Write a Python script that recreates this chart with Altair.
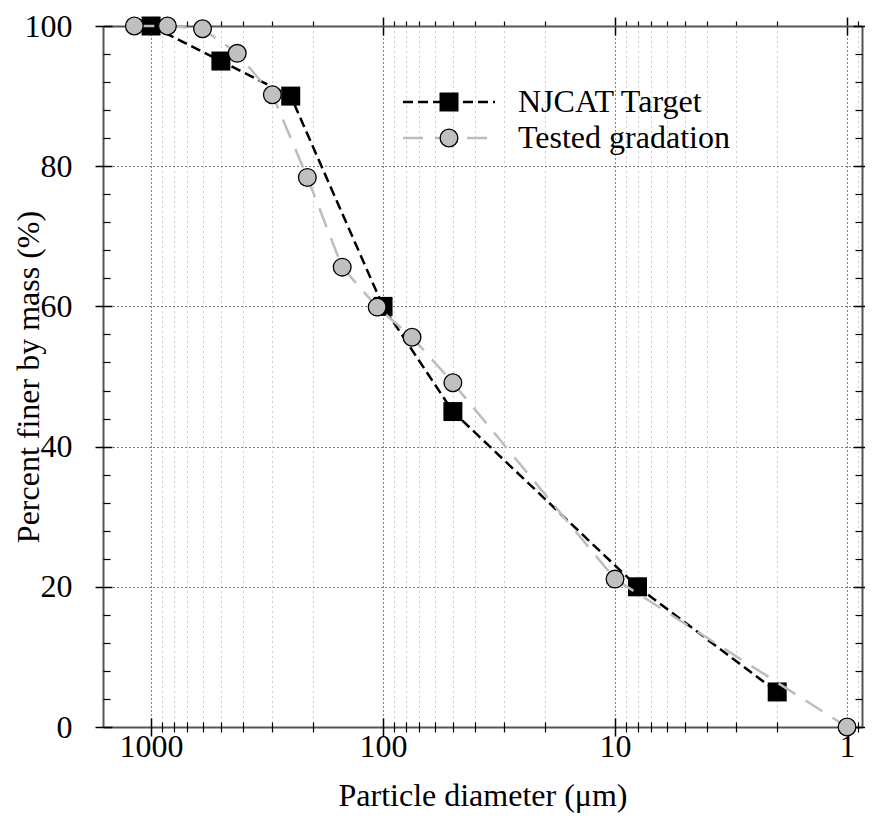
import altair as alt
import pandas as pd

# ---- data ----
target_diam = [1000, 500, 250, 100, 50, 8, 2]
target_pct = [100, 95, 90, 60, 45, 20, 5]
tested_diam = [1180, 850, 600, 425, 300, 212, 150, 106, 75, 50, 10, 1]
tested_pct = [100, 100, 99.6, 96.1, 90.2, 78.4, 65.6, 59.9, 55.6, 49.1, 21.1, 0]
series = ["NJCAT Target", "Tested gradation"]

x_major = [1000, 100, 10, 1]
x_minor = [900, 800, 700, 600, 500, 400, 300, 200,
           90, 80, 70, 60, 50, 40, 30, 20,
           9, 8, 7, 6, 5, 4, 3, 2, 0.9]
y_major = [0, 20, 40, 60, 80, 100]
y_grid = [20, 40, 60, 80]
y_minor = [4, 8, 12, 16, 24, 28, 32, 36, 44, 48, 52, 56,
           64, 68, 72, 76, 84, 88, 92, 96]

FONT = "Liberation Serif"
FS = 32
W, H = 759, 701

df_t = pd.DataFrame({"d": target_diam, "p": target_pct})
df_g = pd.DataFrame({"d": tested_diam, "p": tested_pct})

xs = alt.Scale(type="log", domain=[0.862, 1611], reverse=True)
ys = alt.Scale(domain=[0, 100])


def X(axis):
    return alt.X("d:Q", scale=xs, axis=axis)


def Y(axis):
    return alt.Y("p:Q", scale=ys, axis=axis)


def ax(**kw):
    d = dict(labels=False, domain=False, grid=False, ticks=False, title=None,
             tickColor="black", domainColor="#555555", domainWidth=2)
    d.update(kw)
    return alt.Axis(**d)


def helper(xa, ya):
    return alt.Chart(df_g).mark_point(opacity=0).encode(x=X(xa), y=Y(ya))


grid_minor = helper(
    ax(orient="bottom", values=x_minor, grid=True, gridColor="#9a9a9a",
       gridDash=[1, 4], gridWidth=1),
    ax(orient="right", values=y_major, domain=True))

grid_major = helper(
    ax(orient="bottom", values=x_major, grid=True, gridColor="#000000",
       gridDash=[1, 3], gridWidth=1),
    ax(orient="left", values=y_grid, grid=True, gridColor="#000000",
       gridDash=[1, 3], gridWidth=1))

label_axes = helper(
    ax(orient="bottom", values=x_major, labels=True, domain=True, format="d",
       labelFont=FONT, labelFontSize=FS, labelColor="black", labelPadding=4,
       title="Particle diameter (μm)", titleFont=FONT, titleFontSize=FS,
       titleFontWeight="normal", titleColor="black",
       titleBaseline="alphabetic", titleAlign="center", titleX=W / 2, titleY=78),
    ax(orient="left", values=y_major, labels=True, domain=True,
       labelFont=FONT, labelFontSize=FS, labelColor="black", labelPadding=31,
       title="Percent finer by mass (%)", titleFont=FONT, titleFontSize=FS,
       titleFontWeight="normal", titleColor="black", titleAngle=270,
       titleBaseline="alphabetic", titleAlign="center", titleX=-65, titleY=H / 2))

ticks_major = helper(
    ax(orient="bottom", values=x_major, ticks=True, tickSize=18, tickWidth=1.5,
       offset=-9),
    ax(orient="left", values=y_major, ticks=True, tickSize=17, tickWidth=1.5,
       offset=-9))

ticks_minor = helper(
    ax(orient="bottom", values=x_minor, ticks=True, tickSize=10, tickWidth=1.2,
       offset=-5),
    ax(orient="left", values=y_minor, ticks=True, tickSize=7, tickWidth=1.2,
       offset=-7))

ticks_top_major = helper(
    ax(orient="top", values=x_major, ticks=True, tickSize=18, tickWidth=1.5,
       offset=-9),
    ax(orient="right", values=y_major, ticks=True, tickSize=12, tickWidth=1.5,
       offset=-9))

ticks_top_minor = helper(
    ax(orient="top", values=x_minor, ticks=True, tickSize=5, tickWidth=1.2,
       domain=True),
    ax(orient="right", values=y_minor, ticks=True, tickSize=7, tickWidth=1.2,
       offset=-7))

line_t = alt.Chart(df_t).mark_line(
    color="black", strokeWidth=2.5, strokeDash=[10, 5]
).encode(x=X(None), y=Y(None))

pts_t = alt.Chart(df_t).mark_point(
    shape="square", filled=True, color="black", size=361, opacity=1
).encode(x=X(None), y=Y(None))

line_g = alt.Chart(df_g).mark_line(
    color="#bdbdbd", strokeWidth=2.5, strokeDash=[20, 12]
).encode(x=X(None), y=Y(None))

pts_g = alt.Chart(df_g).mark_point(
    shape="circle", filled=True, fill="#c0c0c0", stroke="black",
    strokeWidth=1.3, size=314, opacity=1
).encode(x=X(None), y=Y(None))

# ---- legend (drawn by hand, pixel positions inside the plot) ----
leg_t = pd.DataFrame({"s": [series[0]]})
leg_g = pd.DataFrame({"s": [series[1]]})

leg_line_t = alt.Chart(leg_t).mark_rule(
    color="black", strokeWidth=2.5, strokeDash=[10, 5]
).encode(x=alt.value(300), x2=alt.value(392), y=alt.value(76))
leg_pt_t = alt.Chart(leg_t).mark_point(
    shape="square", filled=True, color="black", size=361, opacity=1
).encode(x=alt.value(346), y=alt.value(76))
leg_txt_t = alt.Chart(leg_t).mark_text(
    align="left", baseline="middle", font=FONT, fontSize=FS, color="black"
).encode(x=alt.value(415), y=alt.value(76), text="s:N")

leg_line_g = alt.Chart(leg_g).mark_rule(
    color="#bdbdbd", strokeWidth=2.5, strokeDash=[20, 12]
).encode(x=alt.value(300), x2=alt.value(384), y=alt.value(112))
leg_pt_g = alt.Chart(leg_g).mark_point(
    shape="circle", filled=True, fill="#c0c0c0", stroke="black",
    strokeWidth=1.3, size=314, opacity=1
).encode(x=alt.value(346), y=alt.value(112))
leg_txt_g = alt.Chart(leg_g).mark_text(
    align="left", baseline="middle", font=FONT, fontSize=FS, color="black"
).encode(x=alt.value(415), y=alt.value(112), text="s:N")

chart = alt.layer(
    grid_minor, grid_major, label_axes, ticks_major, ticks_minor,
    ticks_top_major, ticks_top_minor,
    line_t, pts_t, line_g, pts_g,
    leg_line_t, leg_pt_t, leg_txt_t, leg_line_g, leg_pt_g, leg_txt_g
).resolve_axis(x="independent", y="independent").properties(
    width=W, height=H,
    autosize=alt.AutoSizeParams(type="none"),
    padding={"left": 95, "top": 18, "right": 3, "bottom": 96}
).configure_view(stroke=None).configure(background="white")

chart.save("out.html", embed_options={"renderer": "svg", "actions": False})
